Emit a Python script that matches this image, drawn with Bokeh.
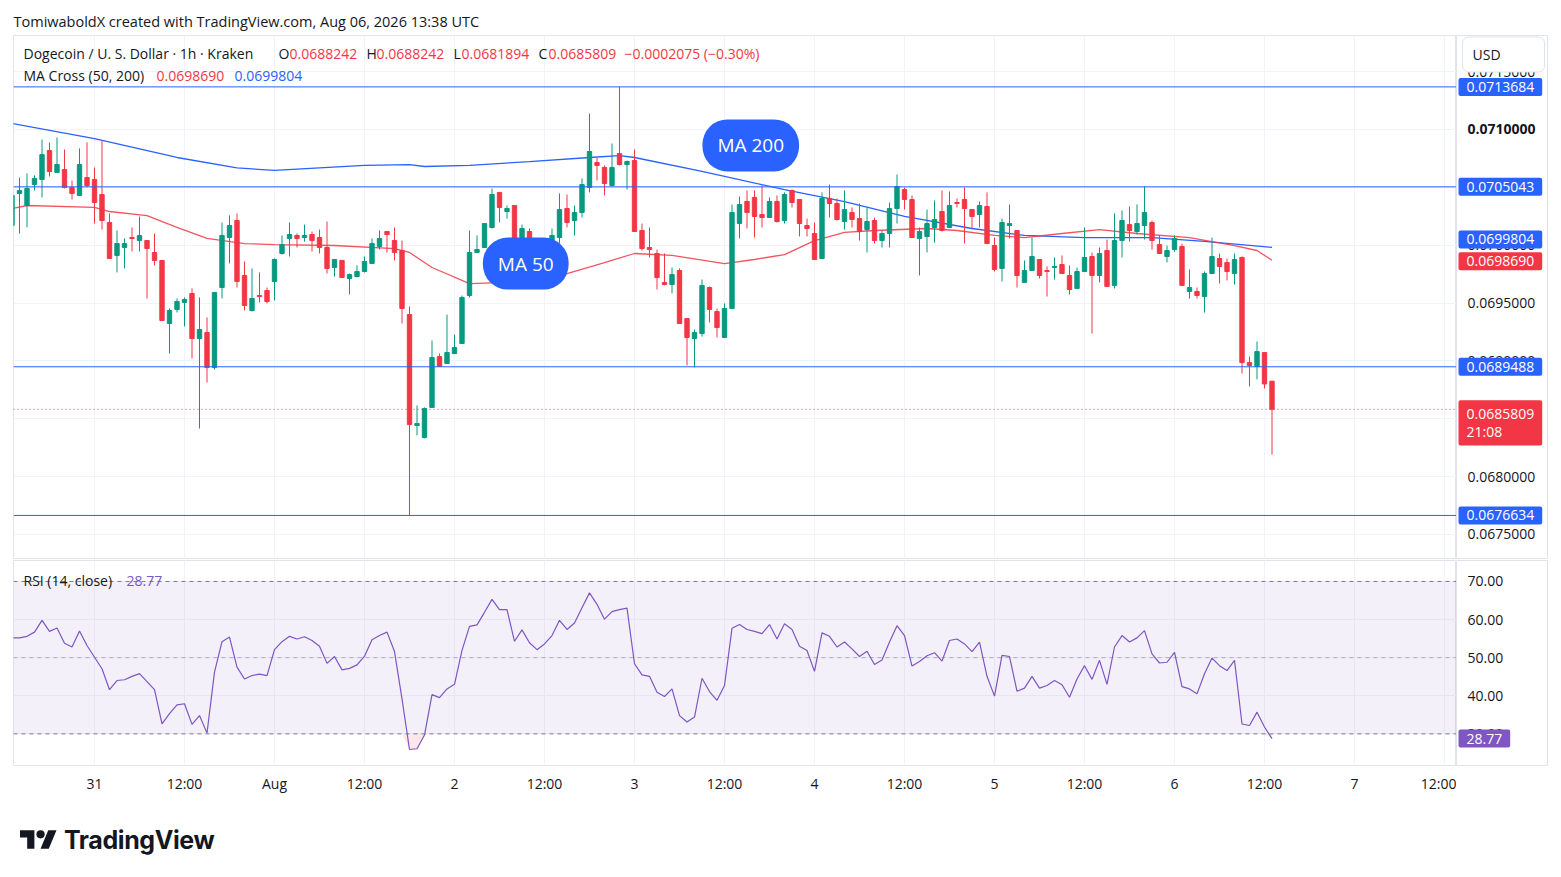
import numpy as np
from bokeh.plotting import figure
from bokeh.models import (ColumnDataSource, Range1d, FixedTicker, Label, Span,
                          BoxAnnotation, Div)
from bokeh.layouts import column, row
from bokeh.core.properties import value
from bokeh.embed import file_html
from bokeh.resources import INLINE

# ---------------- data ----------------
# candle start, hours after 31 Jul 2026 00:00 UTC (1h candles, Kraken DOGE/USD)
hours = list(range(-11, 158))

opens = [
    0.070170, 0.070447, 0.070343, 0.070524, 0.070568, 0.070818, 0.070629, 0.070654, 0.070499, 0.070430,
    0.070585, 0.070568, 0.070438, 0.070196, 0.069911, 0.069980, 0.070066, 0.070040, 0.070040, 0.069937,
    0.069868, 0.069323, 0.069444, 0.069505, 0.069582, 0.069193, 0.069245, 0.068942, 0.069634, 0.070066,
    0.070213, 0.069738, 0.069435, 0.069565, 0.069608, 0.069686, 0.069928, 0.070058, 0.070084, 0.070066,
    0.070092, 0.070066, 0.069980, 0.069807, 0.069868, 0.069712, 0.069729, 0.069772, 0.069842, 0.069988,
    0.070118, 0.070040, 0.069954, 0.069400, 0.068441, 0.068338, 0.068597, 0.069037, 0.068977, 0.069063,
    0.069150, 0.069565, 0.069937, 0.069980, 0.070153, 0.070456, 0.070291, 0.070343, 0.069954, 0.070118,
    0.069971, 0.069911, 0.069954, 0.070066, 0.070317, 0.070213, 0.070283, 0.070499, 0.070715, 0.070672,
    0.070516, 0.070792, 0.070697, 0.070732, 0.070127, 0.069980, 0.069928, 0.069678, 0.069660, 0.069781,
    0.069366, 0.069193, 0.069236, 0.069634, 0.069426, 0.069202, 0.069453, 0.070187, 0.070378, 0.070413,
    0.070265, 0.070239, 0.070378, 0.070213, 0.070473, 0.070395, 0.070170, 0.070101, 0.069885, 0.070404,
    0.070360, 0.070204, 0.070283, 0.070230, 0.070135, 0.070213, 0.070040, 0.070101, 0.070317, 0.070481,
    0.070395, 0.070058, 0.070075, 0.070153, 0.070291, 0.070153, 0.070369, 0.070395, 0.070308, 0.070265,
    0.070334, 0.069997, 0.069799, 0.070170, 0.070127, 0.069678, 0.069781, 0.069876, 0.069781, 0.069807,
    0.069833, 0.069738, 0.069626, 0.069772, 0.069902, 0.069738, 0.069954, 0.069652, 0.070040, 0.070178,
    0.070118, 0.070170, 0.070196, 0.070005, 0.069902, 0.069962, 0.069988, 0.069600, 0.069600, 0.069556,
    0.069755, 0.069885, 0.069850, 0.069755, 0.069894, 0.068985, 0.068951, 0.069072, 0.0688242,
]
highs = [
    0.070490, 0.070585, 0.070620, 0.070603, 0.070913, 0.070888, 0.070931, 0.070827, 0.070559, 0.070836,
    0.070888, 0.070672, 0.070905, 0.070274, 0.070127, 0.070058, 0.070153, 0.070248, 0.070040, 0.070101,
    0.069868, 0.069453, 0.069539, 0.069548, 0.069626, 0.069548, 0.069375, 0.069591, 0.070196, 0.070257,
    0.070274, 0.069859, 0.069799, 0.069764, 0.069634, 0.069885, 0.070084, 0.070196, 0.070101, 0.070178,
    0.070118, 0.070135, 0.070204, 0.069876, 0.069868, 0.069755, 0.069825, 0.069902, 0.070058, 0.070127,
    0.070118, 0.070153, 0.070040, 0.069470, 0.068614, 0.068597, 0.069176, 0.069063, 0.069400, 0.069227,
    0.069565, 0.070127, 0.070084, 0.070187, 0.070490, 0.070456, 0.070343, 0.070343, 0.070178, 0.070144,
    0.070022, 0.070058, 0.070144, 0.070447, 0.070438, 0.070343, 0.070577, 0.071138, 0.070758, 0.070689,
    0.070879, 0.0713684, 0.070732, 0.070827, 0.070187, 0.070153, 0.069962, 0.069928, 0.069807, 0.069799,
    0.069366, 0.069271, 0.069703, 0.069643, 0.069453, 0.069496, 0.070352, 0.070421, 0.070473, 0.070473,
    0.070516, 0.070413, 0.070430, 0.070456, 0.070481, 0.070395, 0.070230, 0.070196, 0.070456, 0.070524,
    0.070404, 0.070473, 0.070326, 0.070360, 0.070326, 0.070239, 0.070127, 0.070369, 0.070611, 0.070499,
    0.070430, 0.070153, 0.070308, 0.070386, 0.070473, 0.070464, 0.070404, 0.070499, 0.070308, 0.070378,
    0.070456, 0.070066, 0.070230, 0.070352, 0.070127, 0.069868, 0.070066, 0.069876, 0.069816, 0.069894,
    0.069911, 0.069825, 0.069807, 0.070153, 0.069937, 0.069980, 0.070049, 0.070274, 0.070300, 0.070334,
    0.070352, 0.070507, 0.070213, 0.070084, 0.069997, 0.070084, 0.070014, 0.069790, 0.069634, 0.069772,
    0.070066, 0.069928, 0.069885, 0.069928, 0.069902, 0.069037, 0.069167, 0.069072, 0.0688242,
]
lows = [
    0.070101, 0.070101, 0.070153, 0.070473, 0.070413, 0.070594, 0.070629, 0.070490, 0.070395, 0.070430,
    0.070499, 0.070187, 0.070135, 0.069885, 0.069764, 0.069799, 0.069945, 0.069945, 0.069539, 0.069825,
    0.069349, 0.069063, 0.069418, 0.069297, 0.069020, 0.068415, 0.068813, 0.068925, 0.069539, 0.069842,
    0.069634, 0.069435, 0.069426, 0.069505, 0.069496, 0.069522, 0.069919, 0.069902, 0.069980, 0.070031,
    0.069945, 0.069928, 0.069755, 0.069729, 0.069720, 0.069573, 0.069720, 0.069764, 0.069842, 0.069962,
    0.069937, 0.069868, 0.069323, 0.0676634, 0.068355, 0.068330, 0.068597, 0.068951, 0.068977, 0.069063,
    0.069150, 0.069548, 0.069937, 0.069980, 0.070144, 0.070196, 0.070230, 0.069945, 0.069945, 0.069885,
    0.069842, 0.069894, 0.069954, 0.070014, 0.070153, 0.070084, 0.070239, 0.070456, 0.070559, 0.070430,
    0.070507, 0.070689, 0.070481, 0.070118, 0.069954, 0.069894, 0.069617, 0.069652, 0.069582, 0.069323,
    0.068960, 0.068942, 0.069210, 0.069332, 0.069202, 0.069202, 0.069453, 0.070058, 0.070144, 0.070066,
    0.070153, 0.070239, 0.070196, 0.070187, 0.070326, 0.070075, 0.070075, 0.069876, 0.069885, 0.070239,
    0.070213, 0.070135, 0.070153, 0.070040, 0.069937, 0.070014, 0.069980, 0.069980, 0.070187, 0.070308,
    0.070066, 0.069738, 0.069937, 0.070022, 0.070118, 0.070153, 0.070326, 0.070014, 0.070144, 0.070153,
    0.070014, 0.069772, 0.069686, 0.070058, 0.069634, 0.069678, 0.069781, 0.069712, 0.069556, 0.069703,
    0.069755, 0.069573, 0.069626, 0.069772, 0.069236, 0.069678, 0.069643, 0.069626, 0.069894, 0.070031,
    0.070092, 0.070049, 0.069962, 0.069928, 0.069850, 0.069945, 0.069652, 0.069539, 0.069539, 0.069418,
    0.069755, 0.069669, 0.069695, 0.069660, 0.068891, 0.068778, 0.068839, 0.068761, 0.0681894,
]
closes = [
    0.070430, 0.070473, 0.070490, 0.070577, 0.070783, 0.070637, 0.070697, 0.070499, 0.070447, 0.070697,
    0.070516, 0.070369, 0.070213, 0.069885, 0.070014, 0.070014, 0.070058, 0.070084, 0.069971, 0.069868,
    0.069349, 0.069435, 0.069513, 0.069530, 0.069193, 0.069271, 0.068942, 0.069591, 0.070084, 0.070170,
    0.069686, 0.069479, 0.069539, 0.069556, 0.069513, 0.069876, 0.070005, 0.070092, 0.070058, 0.070084,
    0.070040, 0.069980, 0.069799, 0.069876, 0.069720, 0.069746, 0.069772, 0.069859, 0.070014, 0.070058,
    0.070092, 0.069937, 0.069453, 0.068449, 0.068458, 0.068588, 0.069029, 0.068951, 0.069072, 0.069115,
    0.069548, 0.069937, 0.069962, 0.070187, 0.070438, 0.070326, 0.070317, 0.069954, 0.070144, 0.069980,
    0.069885, 0.069971, 0.070084, 0.070308, 0.070196, 0.070283, 0.070524, 0.070810, 0.070689, 0.070533,
    0.070672, 0.070697, 0.070723, 0.070118, 0.069971, 0.069962, 0.069720, 0.069660, 0.069746, 0.069323,
    0.069202, 0.069245, 0.069652, 0.069444, 0.069288, 0.069453, 0.070283, 0.070352, 0.070283, 0.070248,
    0.070239, 0.070378, 0.070204, 0.070438, 0.070369, 0.070187, 0.070144, 0.069876, 0.070404, 0.070360,
    0.070222, 0.070308, 0.070222, 0.070118, 0.070204, 0.070040, 0.070101, 0.070317, 0.070507, 0.070395,
    0.070066, 0.070118, 0.070187, 0.070222, 0.070127, 0.070343, 0.070360, 0.070317, 0.070248, 0.070343,
    0.070014, 0.069790, 0.070196, 0.070187, 0.069738, 0.069781, 0.069902, 0.069738, 0.069772, 0.069816,
    0.069755, 0.069617, 0.069772, 0.069894, 0.069738, 0.069928, 0.069643, 0.070040, 0.070213, 0.070127,
    0.070187, 0.070283, 0.070040, 0.069928, 0.069954, 0.070058, 0.069652, 0.069634, 0.069565, 0.069755,
    0.069902, 0.069816, 0.069772, 0.069876, 0.068985, 0.068960, 0.069080, 0.068800, 0.0685809,
]

# moving averages, read at sample points (hours after 31 Jul 00:00)
ma50_hours = [-11, -9, 0, 2, 7, 11, 15, 20, 24, 32, 40, 42, 45, 50, 54, 58, 63, 68, 72, 77,
              84, 88, 92, 96, 100, 104, 111, 115, 120, 124, 129, 134, 139, 146, 152, 155, 157]
ma50_values = [0.070317, 0.070343, 0.070326, 0.070291, 0.070256, 0.070153, 0.070058, 0.070014,
               0.070005, 0.069997, 0.069971, 0.069937, 0.069807, 0.069668, 0.069677, 0.069695,
               0.069755, 0.069850, 0.069928, 0.069911, 0.069841, 0.069876, 0.069919, 0.070040,
               0.070110, 0.070127, 0.070144, 0.070127, 0.070084, 0.070066, 0.070101, 0.070135,
               0.070101, 0.070066, 0.069997, 0.069954, 0.0698690]
ma200_hours = [-11, 0, 11, 19, 24, 36, 42, 44, 50, 58, 66, 70, 72, 81, 92, 100, 108, 117,
               124, 132, 141, 148, 157]
ma200_values = [0.071052, 0.070922, 0.070758, 0.070668, 0.070646, 0.070689, 0.070697, 0.070680,
                0.070689, 0.070723, 0.070758, 0.070775, 0.070758, 0.070637, 0.070481, 0.070377,
                0.070248, 0.070144, 0.070084, 0.070066, 0.070066, 0.070032, 0.0699804]

rsi_values = [
    55.2, 55.2, 55.6, 56.7, 59.8, 56.9, 57.8, 53.8, 52.8, 57.0,
    53.2, 50.1, 47.1, 41.6, 44.0, 44.2, 45.1, 45.8, 43.7, 41.6,
    32.6, 35.3, 37.6, 37.9, 32.5, 34.8, 30.2, 46.2, 54.2, 55.4,
    47.5, 44.4, 45.3, 45.7, 45.3, 52.1, 54.2, 55.6, 54.9, 55.5,
    54.5, 53.0, 48.5, 50.3, 46.8, 47.2, 48.1, 50.4, 54.7, 55.8,
    56.7, 51.6, 39.2, 25.9, 26.1, 29.7, 40.3, 39.5,
    41.8, 43.0, 51.9, 58.2, 58.6, 61.9, 65.3, 62.6, 62.6, 54.3,
    57.3, 53.9, 52.1, 53.6, 55.8, 59.8, 57.4, 59.1, 63.1, 67.0,
    64.0, 60.1, 62.1, 62.6, 63.0, 48.4, 45.5, 45.1, 40.9, 39.8,
    41.8, 34.8, 33.1, 34.4, 44.6, 41.1, 38.8, 42.7, 57.7, 58.7,
    57.4, 56.9, 56.3, 58.7, 54.9, 58.9, 57.4, 53.0, 51.9, 46.4,
    56.5, 55.6, 52.8, 54.1, 52.3, 50.3,
    51.7, 48.2, 49.4, 54.1, 58.4, 55.8, 47.8, 49.0, 50.5, 51.3,
    49.1, 54.5, 54.9, 53.6, 51.6, 54.1, 45.1, 39.9, 50.6, 50.3,
    41.2, 42.0, 45.1, 42.0, 42.7, 44.0, 42.9, 39.6, 44.4, 47.9,
    44.3, 49.3, 43.0, 52.8, 55.8, 54.1, 55.2, 57.1, 51.0, 48.6,
    48.8, 51.4, 42.4, 41.8, 40.5, 45.8, 49.9, 47.9, 46.6, 49.3,
    32.6, 32.2, 35.7, 31.8, 28.77,
]

level_lines = [0.0713684, 0.0705043, 0.0689488, 0.0676634]
price_ticks = [0.0675, 0.068, 0.0685, 0.069, 0.0695, 0.07, 0.0705, 0.071, 0.0715]
bold_price_tick = 0.071
time_ticks = [0, 12, 24, 36, 48, 60, 72, 84, 96, 108, 120, 132, 144, 156, 168, 180]
time_labels = ["31", "12:00", "Aug", "12:00", "2", "12:00", "3", "12:00", "4", "12:00",
               "5", "12:00", "6", "12:00", "7", "12:00"]
rsi_ticks = [30, 40, 50, 60, 70]
rsi_levels = [70, 50, 30]
ma50_last = 0.0698690
ma200_last = 0.0699804
rsi_last = 28.77
countdown = "21:08"

# ---------------- style ----------------
FONT = "Open Sans"
DARK = "#131722"
GREEN = "#089981"
RED = "#f23645"
BLUE = "#2962ff"
PURPLE = "#7e57c2"
GRID = "#f0f3fa"
BORDER = "#e0e3eb"
MAIN_W = 1456      # canvas width of the chart panes (frame 13..1456)
SCALE_W = 92       # width of the price-scale column
FS = "14px"


def text_label(fig, text, x, y, color=DARK, size=FS, bold=False,
               x_units="screen", y_units="screen", **kw):
    lab = Label(x=x, y=y, x_units=x_units, y_units=y_units, text=text, text_color=color,
                text_font=FONT, text_font_size=size,
                text_font_style="bold" if bold else "normal",
                text_baseline=kw.pop("text_baseline", "middle"),
                text_align=kw.pop("text_align", "left"), **kw)
    fig.add_layout(lab)
    return lab


def scale_tag(fig, yval, text, bg, **kw):
    fig.add_layout(Label(x=2, y=yval, text=text, text_color="white", text_font=FONT,
                         text_font_size=FS, text_align="left",
                         text_baseline=kw.pop("text_baseline", "middle"),
                         background_fill_color=bg, padding=(8, 4), border_radius=2, **kw))


def scale_column(height, y_range, top, bottom):
    s = figure(width=SCALE_W, height=height, x_range=Range1d(0, SCALE_W), y_range=y_range,
               x_axis_location=None, y_axis_location=None, output_backend="svg",
               toolbar_location=None, min_border_left=0, min_border_right=0,
               min_border_top=top, min_border_bottom=bottom)
    s.xgrid.visible = False
    s.ygrid.visible = False
    s.outline_line_color = BORDER
    return s


# ---------------- price pane ----------------
p = figure(width=MAIN_W, height=560, x_range=Range1d(-10.8, 181.6),
           y_range=Range1d(0.0672913, 0.0718126), x_axis_location=None,
           y_axis_location=None, output_backend="svg", toolbar_location=None,
           min_border_left=13, min_border_right=0, min_border_top=35, min_border_bottom=2)
p.title.text = "TomiwaboldX created with TradingView.com, Aug 06, 2026 13:38 UTC"
p.title.text_font = FONT
p.title.text_font_size = "14.5px"
p.title.text_font_style = "normal"
p.title.text_color = DARK
p.title.standoff = 10
p.title.offset = 0
p.outline_line_color = BORDER
p.xgrid.ticker = FixedTicker(ticks=time_ticks)
p.ygrid.ticker = FixedTicker(ticks=price_ticks)
p.xgrid.grid_line_color = GRID
p.ygrid.grid_line_color = GRID

colors = [GREEN if c >= o else RED for o, c in zip(opens, closes)]
src = ColumnDataSource(dict(t=hours, o=opens, h=highs, l=lows, c=closes,
                            top=[max(o, c) for o, c in zip(opens, closes)],
                            bot=[min(o, c) for o, c in zip(opens, closes)],
                            color=colors))

for lvl in level_lines:
    p.add_layout(Span(location=lvl, dimension="width", line_color=BLUE, line_width=1))
p.add_layout(Span(location=closes[-1], dimension="width", line_color=RED,
                  line_width=1, line_dash="1 3"))

p.line(ma200_hours, ma200_values, line_color=BLUE, line_width=1.3)
p.line(ma50_hours, ma50_values, line_color=RED, line_alpha=0.85, line_width=1.3)

p.segment("t", "h", "t", "l", source=src, line_color="color", line_width=1)
p.vbar(x="t", width=0.58, top="top", bottom="bot", source=src,
       fill_color="color", line_color="color", line_width=1)

# MA call-outs
for cx, cy, txt in [(87.5, 0.070862, "MA 200"), (57.5, 0.069841, "MA 50")]:
    p.add_layout(Label(x=cx, y=cy, text=txt, text_align="center", text_baseline="middle",
                       text_color="white", text_font=FONT, text_font_size="19px",
                       background_fill_color=BLUE, padding=(15, 13), border_radius=25))

# legend lines
L1, L2 = 505, 483
text_label(p, "Dogecoin / U. S. Dollar · 1h · Kraken", 10, L1)
text_label(p, "O", 265, L1)
text_label(p, f"{opens[-1]:.7f}", 276, L1, color=RED)
text_label(p, "H", 353, L1)
text_label(p, f"{highs[-1]:.7f}", 363, L1, color=RED)
text_label(p, "L", 440, L1)
text_label(p, f"{lows[-1]:.7f}", 448, L1, color=RED)
text_label(p, "C", 525, L1)
text_label(p, f"{closes[-1]:.7f}", 535, L1, color=RED)
text_label(p, "\u22120.0002075 (\u22120.30%)", 611, L1, color=RED)
text_label(p, "MA Cross (50, 200)", 10, L2)
text_label(p, f"{ma50_last:.7f}", 143, L2, color=RED)
text_label(p, f"{ma200_last:.7f}", 221, L2, color=BLUE)

# ---------------- price scale column ----------------
ps = scale_column(560, p.y_range, 35, 2)
norm_ticks = [t for t in price_ticks if t != bold_price_tick]
ps.text(x=[11] * len(norm_ticks), y=norm_ticks, text=[f"{t:.7f}" for t in norm_ticks],
        text_font=value(FONT), text_font_size=FS, text_color=DARK,
        text_baseline="middle", text_align="left")
ps.text(x=[11], y=[bold_price_tick], text=[f"{bold_price_tick:.7f}"],
        text_font=value(FONT), text_font_size=FS, text_color=DARK, text_font_style="bold",
        text_baseline="middle", text_align="left")
for lvl in level_lines:
    scale_tag(ps, lvl, f"{lvl:.7f}", BLUE)
# the two MA tags are pushed apart so they do not overlap (as the price scale does)
scale_tag(ps, ma200_last, f"{ma200_last:.7f}", BLUE, y_offset=8)
scale_tag(ps, ma50_last, f"{ma50_last:.7f}", RED, y_offset=-1)
scale_tag(ps, closes[-1], f"{closes[-1]:.7f}\n{countdown}", RED, text_baseline="top",
          y_offset=9, text_line_height=0.95)
ps.add_layout(Label(x=6, y=504, y_units="screen", text="USD", text_color=DARK,
                    text_font=FONT, text_font_size=FS, text_baseline="middle",
                    background_fill_color="white", border_line_color=BORDER,
                    border_radius=6, padding=(10, 44, 8, 8)))

# ---------------- RSI pane ----------------
r = figure(width=MAIN_W, height=242, x_range=p.x_range, y_range=Range1d(21.7, 75.5),
           y_axis_location=None, output_backend="svg", toolbar_location=None,
           min_border_left=13, min_border_right=0, min_border_top=0, min_border_bottom=37)
r.outline_line_color = BORDER
r.xgrid.grid_line_color = GRID
r.ygrid.grid_line_color = GRID
r.ygrid.ticker = FixedTicker(ticks=rsi_ticks)
r.add_layout(BoxAnnotation(bottom=30, top=70, fill_color=PURPLE, fill_alpha=0.09, line_color=None))
for lvl, a in zip(rsi_levels, [1.0, 0.55, 1.0]):
    r.add_layout(Span(location=lvl, dimension="width", line_color="#787b86",
                      line_dash="4 4", line_width=1, line_alpha=a))
r.varea(x=hours, y1=list(np.minimum(rsi_values, 30)), y2=30, fill_color=RED, fill_alpha=0.12)
r.line(hours, rsi_values, line_color=PURPLE, line_width=1.2)

xa = r.xaxis[0]
xa.ticker = FixedTicker(ticks=time_ticks)
xa.major_label_overrides = {t: lbl for t, lbl in zip(time_ticks, time_labels)}
xa.axis_line_color = None
xa.major_tick_line_color = None
xa.minor_tick_line_color = None
xa.major_tick_out = 0
xa.major_tick_in = 0
xa.major_label_standoff = 8
xa.major_label_text_font = FONT
xa.major_label_text_font_size = FS
xa.major_label_text_color = DARK
r.xgrid.ticker = FixedTicker(ticks=time_ticks)

text_label(r, "RSI (14, close)", 10, 185)
text_label(r, f"{rsi_last:.2f}", 113, 185, color=PURPLE)

rs = scale_column(242, r.y_range, 0, 37)
rs.text(x=[11] * len(rsi_ticks), y=rsi_ticks, text=[f"{t:.2f}" for t in rsi_ticks],
        text_font=value(FONT), text_font_size=FS, text_color=DARK,
        text_baseline="middle", text_align="left")
scale_tag(rs, rsi_last, f"{rsi_last:.2f}", PURPLE)

footer = Div(text=(
    '<div style="display:flex;align-items:center;padding:16px 0 0 15px;">'
    '<svg width="37" height="29" viewBox="0 0 36 28">'
    '<path d="M14 22H7V11H0V4h14v18zM28 22h-8l7.5-18h8L28 22z" fill="#131722"/>'
    '<circle cx="20" cy="8" r="4" fill="#131722"/></svg>'
    '<span style="font-family:Inter;font-weight:700;font-size:25px;color:#131722;'
    'margin-left:7px;letter-spacing:-0.4px;">TradingView</span></div>'),
    width=MAIN_W + SCALE_W, height=60)

layout = column(row(p, ps, spacing=0), row(r, rs, spacing=0), footer, spacing=0)
open("out.html", "w").write(file_html(layout, INLINE))
